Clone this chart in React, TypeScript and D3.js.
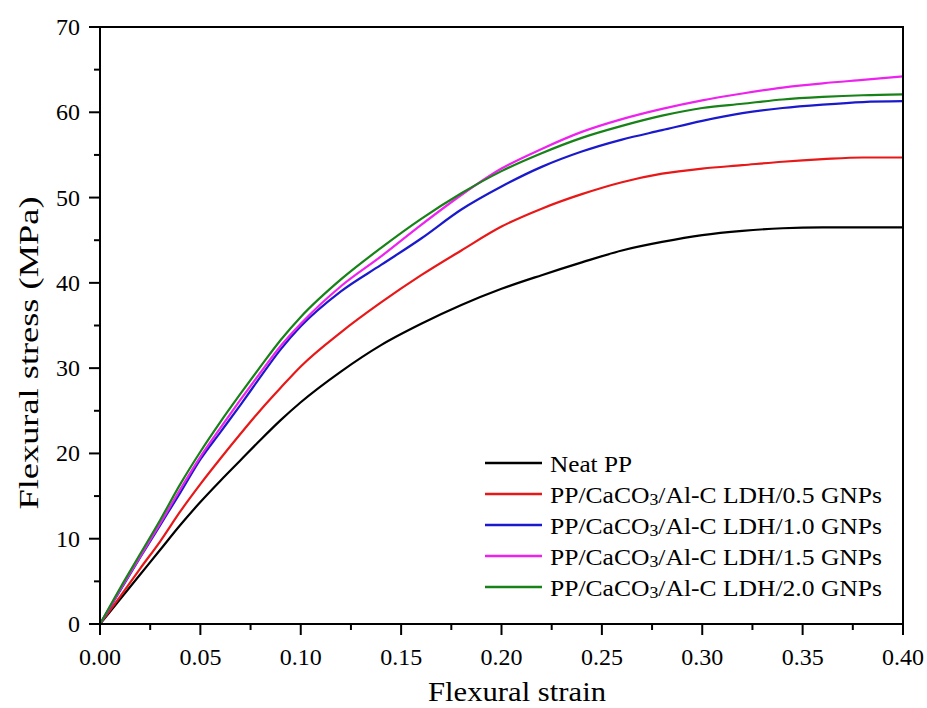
import React from "react";
import * as d3 from "d3";

// Flexural strain (x) sample points shared by every curve
const strain = [0, 0.01, 0.02, 0.03, 0.04, 0.05, 0.06, 0.07, 0.08, 0.09, 0.10, 0.12, 0.14, 0.16, 0.18, 0.20, 0.22, 0.24, 0.26, 0.28, 0.30, 0.32, 0.34, 0.36, 0.38, 0.40];

// Flexural stress (MPa) for each formulation
const neatPP = [0, 2.9, 5.8, 8.7, 11.6, 14.3, 16.8, 19.2, 21.6, 23.9, 26.0, 29.6, 32.7, 35.2, 37.4, 39.3, 40.9, 42.4, 43.8, 44.8, 45.6, 46.1, 46.4, 46.5, 46.5, 46.5];
const gnp05 = [0, 3.2, 6.5, 9.7, 13.2, 16.4, 19.4, 22.3, 25.1, 27.7, 30.2, 34.2, 37.7, 40.9, 43.8, 46.6, 48.7, 50.4, 51.8, 52.8, 53.4, 53.8, 54.2, 54.5, 54.7, 54.7];
const gnp10 = [0, 3.9, 7.8, 11.6, 15.4, 19.3, 22.5, 25.7, 29.0, 32.2, 34.9, 39.0, 42.1, 45.2, 48.6, 51.3, 53.6, 55.4, 56.8, 57.9, 59.0, 59.9, 60.5, 60.9, 61.2, 61.3];
const gnp15 = [0, 4.0, 7.9, 11.8, 15.8, 19.6, 23.0, 26.3, 29.5, 32.6, 35.2, 39.6, 43.1, 46.8, 50.3, 53.4, 55.7, 57.7, 59.2, 60.4, 61.4, 62.2, 62.9, 63.4, 63.8, 64.2];
const gnp20 = [0, 4.2, 8.2, 12.2, 16.4, 20.2, 23.7, 27.0, 30.2, 33.3, 36.0, 40.4, 44.1, 47.5, 50.5, 53.1, 55.2, 57.0, 58.4, 59.6, 60.5, 61.0, 61.5, 61.8, 62.0, 62.1];

const seriesNames = ["Neat PP", "0.5", "1.0", "1.5", "2.0"];
const seriesValues = [neatPP, gnp05, gnp10, gnp15, gnp20];
const seriesColors = ["#000000", "#e81818", "#1a1acc", "#ee22ee", "#178217"];

const xTicks = [0, 0.05, 0.1, 0.15, 0.2, 0.25, 0.3, 0.35, 0.4];
const xMinor = [0.025, 0.075, 0.125, 0.175, 0.225, 0.275, 0.325, 0.375];
const yTicks = [0, 10, 20, 30, 40, 50, 60, 70];
const yMinor = [5, 15, 25, 35, 45, 55, 65];

const W = 927;
const H = 708;
const left = 100;
const right = 903;
const top = 27;
const bottom = 624;
const FONT = '"Liberation Serif", "Times New Roman", Times, serif';
const textStyle = { fontFamily: FONT };

export default function App() {
  const x = d3.scaleLinear().domain([0, 0.4]).range([left, right]);
  const y = d3.scaleLinear().domain([0, 70]).range([bottom, top]);
  const line = d3
    .line<number>()
    .x((_, i) => x(strain[i]))
    .y((d) => y(d))
    .curve(d3.curveMonotoneX);

  const legendY0 = 463;
  const legendStep = 31;

  return (
    <svg width={W} height={H} style={{ position: "absolute", left: 0, top: 0, background: "#fff", fontFamily: FONT }}>
      <rect x={0} y={0} width={W} height={H} fill="#fff" />
      {/* curves */}
      <g fill="none" strokeWidth={2.2} strokeLinejoin="round">
        {seriesValues.map((vals, k) => (
          <path key={k} d={line(vals) || ""} stroke={seriesColors[k]} />
        ))}
      </g>

      {/* frame */}
      <rect x={left} y={top} width={right - left} height={bottom - top} fill="none" stroke="#000" strokeWidth={2} />

      {/* ticks */}
      <g stroke="#000" strokeWidth={2}>
        {xTicks.map((t) => (
          <line key={"xt" + t} x1={x(t)} x2={x(t)} y1={bottom} y2={bottom + 11} />
        ))}
        {xMinor.map((t) => (
          <line key={"xm" + t} x1={x(t)} x2={x(t)} y1={bottom} y2={bottom + 6} />
        ))}
        {yTicks.map((t) => (
          <line key={"yt" + t} x1={left - 11} x2={left} y1={y(t)} y2={y(t)} />
        ))}
        {yMinor.map((t) => (
          <line key={"ym" + t} x1={left - 6} x2={left} y1={y(t)} y2={y(t)} />
        ))}
      </g>

      {/* tick labels */}
      <g fontSize={24} fill="#000">
        {xTicks.map((t) => (
          <text key={"xl" + t} x={x(t)} y={665} textAnchor="middle" style={textStyle}>
            {d3.format(".2f")(t)}
          </text>
        ))}
        {yTicks.map((t) => (
          <text key={"yl" + t} x={80} y={y(t) + 8} textAnchor="end" style={textStyle}>
            {t}
          </text>
        ))}
      </g>

      {/* axis titles */}
      <text x={517} y={701} fontSize={28} textAnchor="middle" textLength={178} lengthAdjust="spacingAndGlyphs" style={textStyle}>
        Flexural strain
      </text>
      <text
        transform={`translate(38, 353) rotate(-90)`}
        fontSize={27}
        textAnchor="middle"
        textLength={313}
        lengthAdjust="spacingAndGlyphs"
        style={textStyle}
      >
        Flexural stress (MPa)
      </text>

      {/* legend */}
      <g>
        {seriesNames.map((name, k) => {
          const ly = legendY0 + k * legendStep;
          return (
            <g key={name}>
              <line x1={485} x2={542} y1={ly} y2={ly} stroke={seriesColors[k]} strokeWidth={2.4} />
              {k === 0 ? (
                <text x={550} y={ly + 9} fontSize={23} textLength={82} lengthAdjust="spacingAndGlyphs" style={textStyle}>
                  {name}
                </text>
              ) : (
                <text x={550} y={ly + 9} fontSize={23} textLength={332} lengthAdjust="spacingAndGlyphs" style={textStyle}>
                  PP/CaCO
                  <tspan fontSize={16} dy={2}>3</tspan>
                  <tspan dy={-2}>{`/Al-C LDH/${name} GNPs`}</tspan>
                </text>
              )}
            </g>
          );
        })}
      </g>
    </svg>
  );
}
